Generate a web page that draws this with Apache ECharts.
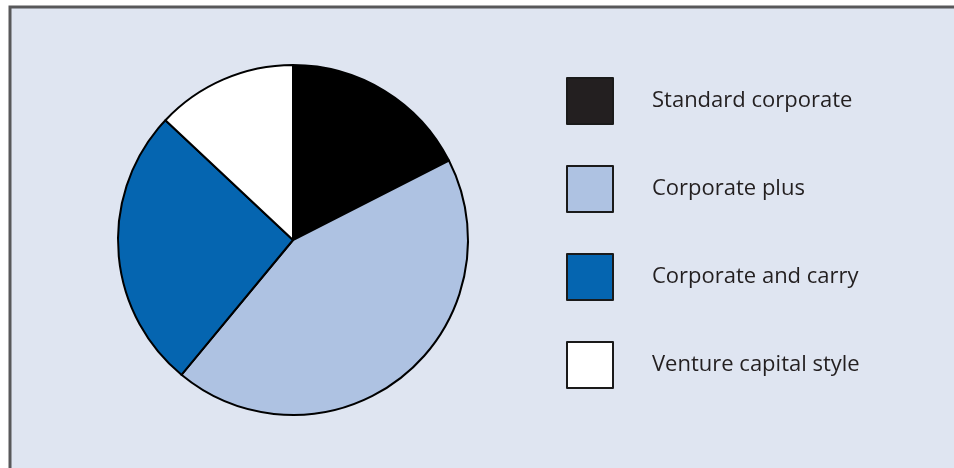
<!DOCTYPE html>
<html>
<head>
<meta charset="utf-8">
<script src="https://cdn.jsdelivr.net/npm/echarts@6/dist/echarts.min.js"></script>
<style>
  html, body { margin: 0; padding: 0; background: #ffffff; }
  #chart { width: 954px; height: 468px; }
</style>
</head>
<body>
<div id="chart"></div>
<script>
// Share of funds by structure type
const categories = ['Standard corporate', 'Corporate plus', 'Corporate and carry', 'Venture capital style'];
const shares = [17.5, 43.5, 26, 13];
const sliceColors = ['#000000', '#aec2e2', '#0565b0', '#ffffff'];
const legendColors = ['#231f20', '#aec2e2', '#0565b0', '#ffffff'];

const chart = echarts.init(document.getElementById('chart'), null, { renderer: 'canvas' });

const pieData = categories.map((name, i) => ({
  name: name,
  value: shares[i],
  itemStyle: { color: sliceColors[i] }
}));

chart.setOption({
  animation: false,
  backgroundColor: '#ffffff',
  graphic: [{
    type: 'rect',
    z: -10,
    shape: { x: 10, y: 7, width: 960, height: 480 },
    style: { fill: '#dfe5f1', stroke: '#58585a', lineWidth: 3 }
  }],
  legend: {
    orient: 'vertical',
    left: 561,
    top: 72,
    itemWidth: 46,
    itemHeight: 46,
    itemGap: 40,
    icon: 'rect',
    selectedMode: false,
    data: categories.map((name, i) => ({
      name: name,
      itemStyle: { color: legendColors[i], borderColor: '#1a1a1a', borderWidth: 2 }
    })),
    textStyle: {
      fontFamily: 'Open Sans, Noto Sans, sans-serif',
      fontSize: 22,
      color: '#231f20',
      padding: [0, 0, 0, 34]
    }
  },
  series: [{
    type: 'pie',
    center: [293, 240],
    radius: [0, 175],
    startAngle: 90,
    clockwise: true,
    label: { show: false },
    labelLine: { show: false },
    emphasis: { disabled: true },
    itemStyle: { borderColor: '#000000', borderWidth: 2 },
    data: pieData
  }]
});
</script>
</body>
</html>
